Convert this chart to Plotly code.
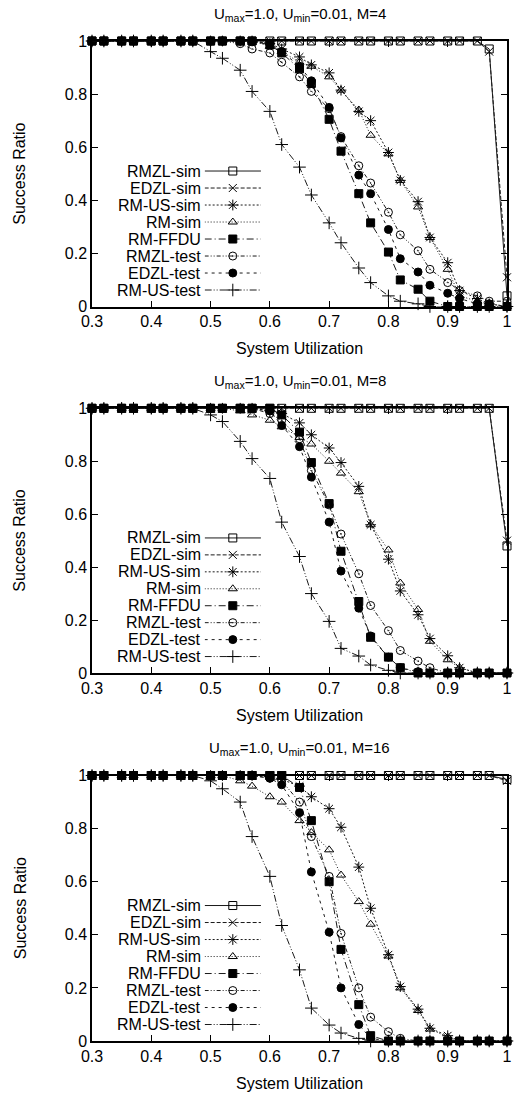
import plotly.graph_objects as go

# ---------------- data ----------------
X = [0.30, 0.32, 0.35, 0.37, 0.40, 0.42, 0.45, 0.47, 0.50, 0.52, 0.55, 0.57, 0.60, 0.62, 0.65,
     0.67, 0.70, 0.72, 0.75, 0.77, 0.80, 0.82, 0.85, 0.87, 0.90, 0.92, 0.95, 0.97, 1.00]
X_TICKS = [0.3, 0.4, 0.5, 0.6, 0.7, 0.8, 0.9, 1.0]
X_TICKTEXT = ["0.3", "0.4", "0.5", "0.6", "0.7", "0.8", "0.9", "1"]
Y_TICKS = [0, 0.2, 0.4, 0.6, 0.8, 1.0]
Y_TICKTEXT = ["0", "0.2", "0.4", "0.6", "0.8", "1"]
NAMES = ["RMZL-sim", "EDZL-sim", "RM-US-sim", "RM-sim", "RM-FFDU", "RMZL-test", "EDZL-test", "RM-US-test"]
M_VALUES = [4, 8, 16]

# M = 4
m4_rmzl_sim = [1] * 27 + [0.97, 0.04]
m4_edzl_sim = [1] * 27 + [0.96, 0.11]
m4_rmus_sim = [1] * 12 + [0.99, 0.97, 0.94, 0.91, 0.88, 0.815, 0.735, 0.70, 0.58, 0.475, 0.395, 0.26, 0.165, 0.06, 0.03, 0.01, 0.0]
m4_rm_sim = [1] * 12 + [0.98, 0.96, 0.92, 0.905, 0.865, 0.815, 0.74, 0.645, 0.575, 0.475, 0.375, 0.26, 0.14, 0.04, 0.02, 0.01, 0.0]
m4_rm_ffdu = [1] * 12 + [0.985, 0.955, 0.895, 0.84, 0.705, 0.585, 0.425, 0.315, 0.205, 0.10, 0.065, 0.02, 0.0, 0.0, 0.0, 0.0, 0.0]
m4_rmzl_test = [1] * 10 + [0.99, 0.97, 0.955, 0.92, 0.865, 0.81, 0.745, 0.64, 0.53, 0.465, 0.355, 0.27, 0.21, 0.14, 0.09, 0.06, 0.04, 0.02, 0.02]
m4_edzl_test = [1] * 12 + [0.99, 0.96, 0.905, 0.85, 0.75, 0.635, 0.495, 0.425, 0.29, 0.18, 0.13, 0.08, 0.05, 0.03, 0.01, 0.01, 0.0]
m4_rmus_test = [1] * 8 + [0.96, 0.935, 0.89, 0.81, 0.735, 0.61, 0.525, 0.42, 0.315, 0.24, 0.145, 0.09, 0.04, 0.02, 0.01, 0.0, 0.0, 0.0, 0.0, 0.0, 0.0]

# M = 8
m8_rmzl_sim = [1] * 28 + [0.48]
m8_edzl_sim = [1] * 28 + [0.50]
m8_rmus_sim = [1] * 12 + [0.99, 0.98, 0.945, 0.90, 0.85, 0.795, 0.705, 0.56, 0.43, 0.31, 0.22, 0.13, 0.065, 0.02, 0.0, 0.0, 0.0]
m8_rm_sim = [1] * 10 + [0.99, 0.975, 0.955, 0.93, 0.89, 0.865, 0.80, 0.755, 0.685, 0.56, 0.465, 0.34, 0.24, 0.12, 0.05, 0.02, 0.0, 0.0, 0.0]
m8_rm_ffdu = [1] * 13 + [0.975, 0.91, 0.795, 0.64, 0.46, 0.27, 0.135, 0.06, 0.02, 0.0, 0.0, 0.0, 0.0, 0.0, 0.0, 0.0]
m8_rmzl_test = [1] * 12 + [0.98, 0.955, 0.885, 0.765, 0.635, 0.525, 0.375, 0.255, 0.16, 0.085, 0.045, 0.02, 0.0, 0.0, 0.0, 0.0, 0.0]
m8_edzl_test = [1] * 12 + [0.99, 0.935, 0.855, 0.74, 0.57, 0.385, 0.245, 0.14, 0.06, 0.02, 0.005, 0.0, 0.0, 0.0, 0.0, 0.0, 0.0]
m8_rmus_test = [1] * 8 + [0.975, 0.95, 0.875, 0.81, 0.735, 0.57, 0.44, 0.30, 0.195, 0.093, 0.064, 0.03, 0.01, 0.0, 0.0, 0.0, 0.0, 0.0, 0.0, 0.0, 0.0]

# M = 16
m16_rmzl_sim = [1] * 28 + [0.985]
m16_edzl_sim = [1] * 28 + [0.98]
m16_rmus_sim = [1] * 12 + [0.995, 0.985, 0.96, 0.92, 0.875, 0.805, 0.655, 0.50, 0.325, 0.205, 0.12, 0.048, 0.02, 0.0, 0.0, 0.0, 0.0]
m16_rm_sim = [1] * 10 + [0.98, 0.96, 0.92, 0.90, 0.83, 0.785, 0.72, 0.625, 0.525, 0.44, 0.32, 0.20, 0.115, 0.045, 0.015, 0.0, 0.0, 0.0, 0.0]
m16_rm_ffdu = [1] * 14 + [0.955, 0.83, 0.60, 0.345, 0.137, 0.02, 0.0, 0.0, 0.0, 0.0, 0.0, 0.0, 0.0, 0.0, 0.0]
m16_rmzl_test = [1] * 12 + [0.99, 0.98, 0.90, 0.77, 0.62, 0.405, 0.20, 0.09, 0.035, 0.01, 0.0, 0.0, 0.0, 0.0, 0.0, 0.0, 0.0]
m16_edzl_test = [1] * 12 + [0.99, 0.965, 0.86, 0.637, 0.41, 0.20, 0.062, 0.01, 0.0, 0.0, 0.0, 0.0, 0.0, 0.0, 0.0, 0.0, 0.0]
m16_rmus_test = [1] * 8 + [0.98, 0.95, 0.90, 0.77, 0.62, 0.435, 0.268, 0.124, 0.06, 0.03, 0.01, 0.0, 0.0, 0.0, 0.0, 0.0, 0.0, 0.0, 0.0, 0.0, 0.0]

PANELS = [
    [m4_rmzl_sim, m4_edzl_sim, m4_rmus_sim, m4_rm_sim, m4_rm_ffdu, m4_rmzl_test, m4_edzl_test, m4_rmus_test],
    [m8_rmzl_sim, m8_edzl_sim, m8_rmus_sim, m8_rm_sim, m8_rm_ffdu, m8_rmzl_test, m8_edzl_test, m8_rmus_test],
    [m16_rmzl_sim, m16_edzl_sim, m16_rmus_sim, m16_rm_sim, m16_rm_ffdu, m16_rmzl_test, m16_edzl_test, m16_rmus_test],
]

# ---------------- styles ----------------
FONT = "Liberation Sans, Arial, Helvetica, sans-serif"
LINE_COLOR = "#1a1a1a"
STYLES = [
    dict(symbol="square-open", size=8, dash="solid"),
    dict(symbol="x-thin-open", size=8, dash="4px,2px"),
    dict(symbol="asterisk-open", size=9, dash="2px,2px"),
    dict(symbol="triangle-up-open", size=8, dash="1px,2px"),
    dict(symbol="square", size=8, dash="7px,3px,1px,3px"),
    dict(symbol="circle-open-dot", size=8, dash="4px,2px,1px,2px,1px,2px"),
    dict(symbol="circle", size=8, dash="3px,4px"),
    dict(symbol="cross-thin-open", size=9, dash="7px,2px,1px,2px,1px,2px"),
]

# panel geometry (paper fractions, plot area 92..512 x, 41..1041 y)
Y_DOMAINS = [[0.7345, 1.0], [0.368, 0.6327], [0.0, 0.2655]]
LEG_X_DOMAIN = [(206 - 92) / 420, (263 - 92) / 420]

fig = go.Figure()
layout = dict(
    width=518, height=1093,
    margin=dict(l=92, r=6, t=41, b=52),
    paper_bgcolor="white", plot_bgcolor="rgba(0,0,0,0)",
    showlegend=False,
    font=dict(family=FONT, size=16, color="black"),
)
annotations = []

for p, series in enumerate(PANELS):
    xa = "x" if p == 0 else f"x{p + 1}"
    ya = "y" if p == 0 else f"y{p + 1}"
    lx = f"x{p + 4}"
    ly = f"y{p + 4}"
    for k, (name, vals) in enumerate(zip(NAMES, series)):
        st = STYLES[k]
        fig.add_trace(go.Scatter(
            x=X, y=vals, name=name, mode="lines+markers", xaxis=xa, yaxis=ya,
            line=dict(color=LINE_COLOR, width=1, dash=st["dash"]),
            marker=dict(symbol=st["symbol"], size=st["size"], color="black",
                        line=dict(color="black", width=1)),
            cliponaxis=False,
        ))
        # custom gnuplot-style key entry (text left of the sample)
        fig.add_trace(go.Scatter(
            x=[0, 1], y=[7 - k, 7 - k], mode="lines", xaxis=lx, yaxis=ly,
            line=dict(color=LINE_COLOR, width=1, dash=st["dash"]), hoverinfo="skip",
            cliponaxis=False,
        ))
        fig.add_trace(go.Scatter(
            x=[0.5], y=[7 - k], mode="markers", xaxis=lx, yaxis=ly,
            marker=dict(symbol=st["symbol"], size=st["size"], color="black",
                        line=dict(color="black", width=1)),
            hoverinfo="skip", cliponaxis=False,
        ))
        annotations.append(dict(
            text=name, xref=lx, yref=ly, x=0, y=7 - k, xanchor="right", yanchor="middle",
            xshift=-2, showarrow=False, font=dict(size=16, family=FONT, color="black"),
        ))

    key = "" if p == 0 else str(p + 1)
    dom = Y_DOMAINS[p]
    layout["xaxis" + key] = dict(
        domain=[0, 1], range=[0.3, 1.0], anchor=ya, tickvals=X_TICKS, ticktext=X_TICKTEXT,
        showline=True, linecolor="black", linewidth=1.5, mirror="ticks",
        ticks="inside", ticklen=6, tickwidth=1, tickcolor="black",
        showgrid=False, zeroline=False, tickfont=dict(size=16, family=FONT, color="black"),
    )
    layout["yaxis" + key] = dict(
        domain=dom, range=[0, 1], anchor=xa, tickvals=Y_TICKS, ticktext=Y_TICKTEXT,
        showline=True, linecolor="black", linewidth=1.5, mirror="ticks",
        ticks="inside", ticklen=6, tickwidth=1, tickcolor="black",
        showgrid=False, zeroline=False, tickfont=dict(size=16, family=FONT, color="black"),
    )
    layout[f"xaxis{p + 4}"] = dict(domain=LEG_X_DOMAIN, range=[0, 1], anchor=ly, visible=False, fixedrange=True)
    layout[f"yaxis{p + 4}"] = dict(domain=dom, range=[-0.97, 14.65], anchor=lx, visible=False, fixedrange=True)

    annotations.append(dict(
        text=f"U<sub>max</sub>=1.0, U<sub>min</sub>=0.01, M={M_VALUES[p]}",
        xref="paper", yref="paper", x=0.5, y=dom[1], yshift=27, xanchor="center", yanchor="middle",
        showarrow=False, font=dict(size=15, family=FONT, color="black"),
    ))
    annotations.append(dict(
        text="System Utilization", xref="paper", yref="paper", x=0.5, y=dom[0], yshift=-42,
        xanchor="center", yanchor="middle", showarrow=False, font=dict(size=16, family=FONT, color="black"),
    ))
    annotations.append(dict(
        text="Success Ratio", xref="paper", yref="paper", x=0, xshift=-72, y=(dom[0] + dom[1]) / 2,
        xanchor="center", yanchor="middle", textangle=-90, showarrow=False,
        font=dict(size=16, family=FONT, color="black"),
    ))

layout["annotations"] = annotations
fig.update_layout(**layout)
fig.write_html(
    "out.html",
    config={"displayModeBar": False},
    post_script="document.body.style.margin='0';document.body.style.padding='0';"
                "document.body.style.overflow='hidden';",
)
